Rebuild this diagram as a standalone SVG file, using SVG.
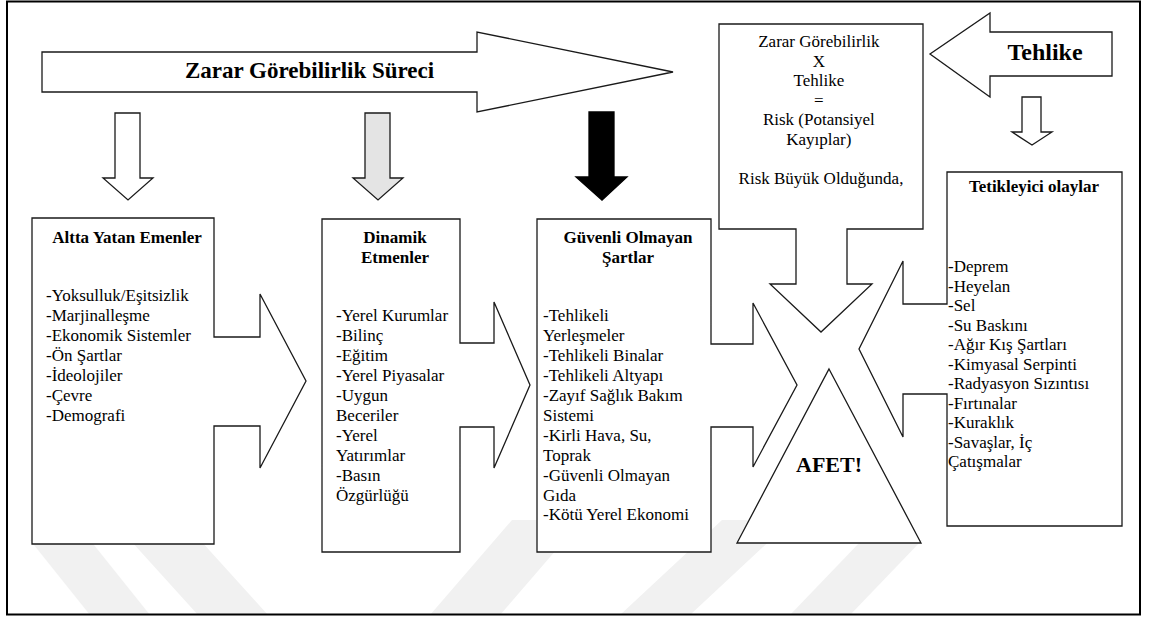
<svg xmlns="http://www.w3.org/2000/svg" width="1150" height="623" viewBox="0 0 1150 623">
<style>
.t{font-family:"Liberation Serif","Times New Roman",serif;font-size:17px;fill:#000}
.b{font-weight:bold}
.c{text-anchor:middle}
.s{fill:#fff;stroke:#1a1a1a;stroke-width:1.3;stroke-linejoin:miter}
.wm{fill:#f1f1f1;stroke:none}
</style>
<rect x="0" y="0" width="1150" height="623" fill="#fff"/>
<g id="watermark">
<polygon class="wm" points="30,540 90,540 150,615 90,615"/>
<polygon class="wm" points="112,520 182,520 268,615 198,615"/>
<polygon class="wm" points="512,520 582,520 500,615 430,615"/>
<polygon class="wm" points="722,520 792,520 690,615 620,615"/>
<polygon class="wm" points="862,540 922,540 850,615 790,615"/>
</g>
<rect id="frame" x="7" y="1.5" width="1133" height="613" fill="none" stroke="#000" stroke-width="2"/>
<g id="connectors">
<polygon id="process-arrow" class="s" points="42,52 477,52 477,32 673,72 477,112 477,92 42,92"/>
<polygon id="hazard-arrow" class="s" points="1112,32 990,32 990,13 930,54 990,97 990,76 1112,76"/>
<polygon id="down1" class="s" points="115,113 140,113 140,178 153,178 128,200 103,178 115,178"/>
<polygon id="down2" class="s" style="fill:#e4e4e4" points="365,113 390,113 390,178 403,178 378,200 353,178 365,178"/>
<polygon id="down3" points="589,112 614,112 614,177 627,177 602,200 576,177 589,177" fill="#000" stroke="#000" stroke-width="1.3"/>
<polygon id="down4" class="s" points="1022,97 1041,97 1041,132 1052,132 1032,145 1012,132 1022,132"/>
<text class="t b" x="185" y="78" style="font-size:23px">Zarar Görebilirlik Süreci</text>
<text class="t b c" x="1045" y="60" style="font-size:24px">Tehlike</text>
</g>
<g id="node-altta">
<polygon class="s" points="32,218 214,218 214,337 260,337 260,294 306,381 260,468 260,426 214,426 214,544 32,544"/>
<text class="t b c" x="127" y="243">Altta Yatan Emenler</text>
<text class="t" x="46">
<tspan x="46" y="301">-Yoksulluk/Eşitsizlik</tspan>
<tspan x="46" y="321">-Marjinalleşme</tspan>
<tspan x="46" y="341">-Ekonomik Sistemler</tspan>
<tspan x="46" y="361">-Ön Şartlar</tspan>
<tspan x="46" y="381">-İdeolojiler</tspan>
<tspan x="46" y="401">-Çevre</tspan>
<tspan x="46" y="421">-Demografi</tspan>
</text>
</g>
<g id="node-dinamik">
<polygon class="s" points="322,219 460,219 460,343 494,343 494,302 530,385 494,468 494,427 460,427 460,552 322,552"/>
<text class="t b c" x="395" y="243">Dinamik</text>
<text class="t b c" x="395" y="263">Etmenler</text>
<text class="t">
<tspan x="336" y="321">-Yerel Kurumlar</tspan>
<tspan x="336" y="341">-Bilinç</tspan>
<tspan x="336" y="361">-Eğitim</tspan>
<tspan x="336" y="381">-Yerel Piyasalar</tspan>
<tspan x="336" y="401">-Uygun</tspan>
<tspan x="336" y="421">Beceriler</tspan>
<tspan x="336" y="441">-Yerel</tspan>
<tspan x="336" y="461">Yatırımlar</tspan>
<tspan x="336" y="481">-Basın</tspan>
<tspan x="336" y="501">Özgürlüğü</tspan>
</text>
</g>
<g id="node-guvenli">
<polygon class="s" points="537,219 711,219 711,344 753,344 753,303 797,385 753,467 753,427 711,427 711,552 537,552"/>
<text class="t b c" x="628" y="243">Güvenli Olmayan</text>
<text class="t b c" x="628" y="263">Şartlar</text>
<text class="t">
<tspan x="543" y="321">-Tehlikeli</tspan>
<tspan x="543" y="341">Yerleşmeler</tspan>
<tspan x="543" y="361">-Tehlikeli Binalar</tspan>
<tspan x="543" y="381">-Tehlikeli Altyapı</tspan>
<tspan x="543" y="401">-Zayıf Sağlık Bakım</tspan>
<tspan x="543" y="421">Sistemi</tspan>
<tspan x="543" y="441">-Kirli Hava, Su,</tspan>
<tspan x="543" y="461">Toprak</tspan>
<tspan x="543" y="481">-Güvenli Olmayan</tspan>
<tspan x="543" y="501">Gıda</tspan>
<tspan x="543" y="520">-Kötü Yerel Ekonomi</tspan>
</text>
</g>
<g id="node-risk">
<polygon class="s" points="719,24 923,24 923,229 847,229 847,284 872,284 821,332 770,284 796,284 796,229 719,229"/>
<text class="t c">
<tspan x="821" y="47">Zarar Görebilirlik</tspan>
<tspan x="821" y="67">X</tspan>
<tspan x="821" y="86">Tehlike</tspan>
<tspan x="821" y="106">=</tspan>
<tspan x="821" y="125">Risk (Potansiyel</tspan>
<tspan x="821" y="145">Kayıplar)</tspan>
<tspan x="821" y="184">Risk Büyük Olduğunda,</tspan>
</text>
</g>
<g id="node-tetik">
<polygon class="s" points="947,172 1122,172 1122,526 947,526 947,394 903,394 903,437 859,349 903,261 903,304 947,304"/>
<text class="t b c" x="1034" y="192">Tetikleyici olaylar</text>
<text class="t">
<tspan x="948" y="272">-Deprem</tspan>
<tspan x="948" y="291.5">-Heyelan</tspan>
<tspan x="948" y="311">-Sel</tspan>
<tspan x="948" y="330.5">-Su Baskını</tspan>
<tspan x="948" y="350">-Ağır Kış Şartları</tspan>
<tspan x="948" y="369.5">-Kimyasal Serpinti</tspan>
<tspan x="948" y="389">-Radyasyon Sızıntısı</tspan>
<tspan x="948" y="408.5">-Fırtınalar</tspan>
<tspan x="948" y="428">-Kuraklık</tspan>
<tspan x="948" y="447.5">-Savaşlar, İç</tspan>
<tspan x="948" y="467">Çatışmalar</tspan>
</text>
</g>
<g id="node-afet">
<polygon class="s" points="829,369 921,543 737,543"/>
<text class="t b c" x="829" y="472" style="font-size:22px">AFET!</text>
</g>
</svg>
